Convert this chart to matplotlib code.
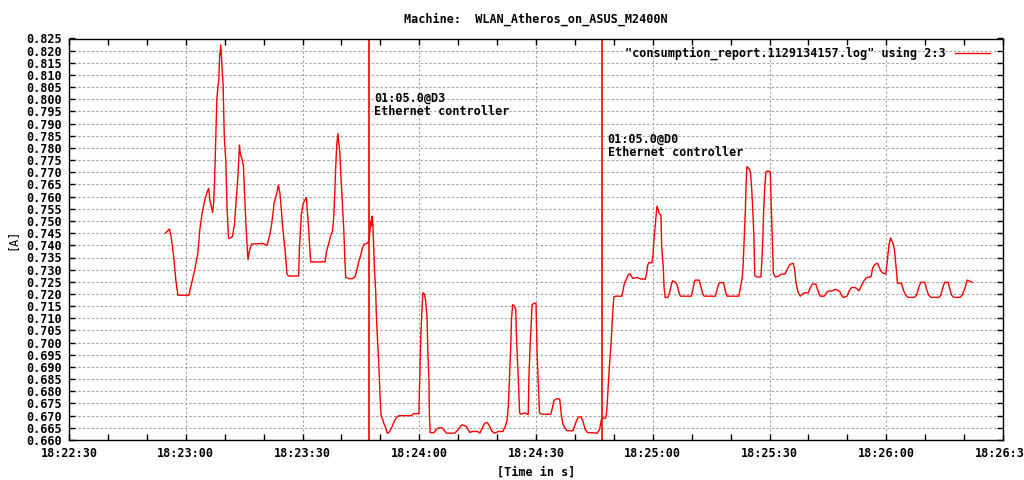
import matplotlib
matplotlib.use('Agg')
from matplotlib import pyplot
from matplotlib.ticker import MultipleLocator, FuncFormatter

# seconds after 18:22:30
secs = [24.8, 25.8, 26.3, 26.9, 27.5, 28.0, 30.8, 31.0, 31.6, 32.3, 33.1, 33.6, 34.2, 34.9, 35.5, 35.9,
        36.2, 36.9, 37.2, 37.4, 37.7, 38.0, 38.5, 38.7, 39.0, 39.2, 39.6, 39.9, 40.3, 40.6, 41.0, 41.5,
        42.0, 42.5, 42.9, 43.4, 43.8, 44.0, 44.4, 44.8, 45.1, 45.5, 45.8, 46.0, 46.4, 46.9, 49.7, 50.9,
        51.5, 52.1, 52.7, 53.4, 53.8, 54.2, 54.5, 54.9, 55.6, 56.0, 56.4, 59.0, 59.2, 59.7, 60.2, 60.7,
        61.0, 61.4, 61.7, 62.1, 65.8, 66.2, 66.7, 67.1, 67.7, 68.0, 68.3, 68.5, 68.8, 69.1, 69.3, 69.6,
        69.8, 70.2, 70.6, 70.9, 71.1, 71.8, 72.8, 73.5, 73.9, 74.4, 74.9, 75.4, 75.8, 76.8, 77.1, 77.3,
        77.5, 77.8, 77.9, 78.1, 78.3, 78.5, 78.8, 79.0, 79.3, 79.7, 80.0, 80.2, 80.6, 81.0, 81.5, 81.8,
        82.3, 82.9, 83.6, 84.2, 84.8, 88.0, 88.5, 89.9, 90.2, 90.4, 90.7, 90.9, 91.3, 91.6, 92.0, 92.2,
        92.5, 92.6, 92.8, 93.8, 94.4, 95.0, 95.9, 96.4, 97.0, 99.1, 100.0, 100.9, 101.5, 102.1, 102.6, 103.0,
        103.6, 105.0, 105.6, 106.2, 106.8, 107.5, 108.1, 108.7, 109.4, 110.3, 111.5, 112.1, 112.6, 112.9, 113.2, 113.5,
        113.7, 114.0, 114.4, 114.8, 115.0, 115.4, 115.8, 116.1, 117.1, 118.0, 118.2, 118.5, 118.8, 119.0, 119.5, 120.0,
        120.3, 120.7, 120.9, 121.5, 123.8, 124.2, 124.6, 125.4, 126.1, 126.5, 126.9, 127.4, 128.0, 129.5, 129.9, 130.4,
        130.9, 131.6, 132.1, 132.6, 133.2, 135.7, 136.3, 136.8, 137.1, 137.9, 138.2, 138.4, 138.6, 138.8, 139.3, 139.7,
        140.0, 140.4, 142.0, 142.3, 142.7, 143.2, 143.6, 144.1, 144.5, 144.9, 146.0, 146.8, 148.1, 148.4, 148.7, 149.0,
        149.8, 150.1, 150.3, 150.6, 150.9, 151.1, 151.4, 151.7, 152.1, 152.3, 152.7, 152.9, 153.2, 153.9, 154.4, 154.8,
        155.1, 155.8, 156.2, 156.7, 157.1, 159.9, 160.3, 160.6, 160.9, 161.9, 162.5, 162.8, 163.2, 166.1, 166.6, 167.1,
        168.2, 168.7, 169.1, 172.1, 172.5, 173.0, 173.2, 173.5, 173.8, 174.0, 174.2, 174.7, 175.1, 175.4, 175.7, 176.0,
        176.2, 176.6, 177.8, 178.0, 178.3, 178.5, 178.8, 179.1, 179.7, 180.2, 180.4, 180.7, 181.0, 181.5, 182.3, 183.0,
        184.0, 184.7, 185.3, 186.1, 186.4, 186.8, 187.3, 187.9, 188.5, 189.0, 190.0, 190.4, 191.0, 191.9, 192.4, 193.0,
        194.1, 194.6, 195.1, 196.2, 196.8, 197.5, 198.1, 198.5, 199.0, 199.9, 200.5, 201.1, 202.1, 203.0, 203.7, 204.4,
        205.0, 206.1, 206.5, 207.1, 207.8, 208.2, 208.7, 209.3, 209.9, 210.3, 210.7, 211.1, 211.5, 211.9, 212.2, 212.6,
        212.9, 213.9, 214.4, 215.0, 215.6, 217.2, 217.8, 218.4, 218.9, 219.9, 220.3, 220.9, 221.6, 223.5, 224.0, 224.6,
        225.0, 225.9, 226.3, 226.8, 227.4, 228.9, 229.5, 230.2, 230.8, 231.2, 231.7, 232.1]
amps = [.745, .7467, .743, .7353, .725, .7195, .7195, .721, .725, .730, .7367, .7463, .7532, .7586, .762, .7634,
        .7586, .7535, .758, .766, .7826, .8004, .8086, .8175, .8223, .817, .806, .7847, .7744, .7559, .7429, .743,
        .7436, .7484, .7573, .7682, .7812, .7777, .7757, .773, .7614, .7477, .7388, .7342, .7381, .7405, .7408, .740,
        .7436, .749, .7573, .7614, .7648, .7614, .7559, .7477, .7367, .7282, .7274, .7274, .7384, .7527, .7573, .7589,
        .7596, .7507, .7432, .7332, .7332, .7377, .7404, .7432, .7459, .7507, .7616, .7712, .7815, .7859, .7822, .7781,
        .7705, .7582, .7466, .7336, .727, .7263, .7263, .7271, .7295, .7329, .7356, .739, .7404, .741, .7425, .745,
        .750, .748, .752, .748, .739, .730, .7212, .7103, .7007, .6877, .6753, .6699, .6685, .6664, .6644, .6627,
        .6633, .665, .6678, .6694, .670, .670, .6708, .6708, .6897, .7027, .7137, .7205, .720, .7178, .7103, .6973,
        .6836, .6707, .663, .663, .6644, .665, .665, .664, .6628, .6628, .6642, .6662, .666, .6656, .6642, .6631,
        .6635, .6635, .6628, .665, .6669, .6672, .6656, .6635, .6628, .6635, .6635, .6656, .6683, .6745, .6862, .6979,
        .7096, .7156, .7151, .7138, .7014, .6869, .6711, .6706, .6711, .6705, .6869, .6993, .7096, .7156, .7162, .7162,
        .6945, .6786, .6711, .6706, .6706, .6731, .6763, .677, .6768, .6704, .6666, .665, .6638, .6638, .6656, .668,
        .6694, .6695, .6676, .6645, .6631, .6628, .6642, .6683, .669, .669, .6724, .6779, .6828, .6887, .700, .712,
        .7188, .7191, .7191, .7209, .7243, .726, .7277, .7284, .7273, .7264, .7268, .7262, .7261, .7284, .7318, .7329,
        .7329, .7366, .7421, .7476, .753, .7561, .7547, .753, .7524, .7394, .7312, .7229, .7186, .7186, .7209, .724,
        .7254, .7249, .724, .7209, .7191, .7191, .7216, .7243, .7257, .7257, .7223, .7202, .7191, .7191, .7223, .7247,
        .7247, .7209, .7191, .7191, .7223, .727, .7312, .7428, .7545, .7661, .7723, .7716, .7702, .764, .7545, .7435,
        .7277, .727, .727, .7325, .7435, .7545, .7647, .7702, .7706, .7702, .7586, .7435, .7284, .727, .7273, .7282,
        .7282, .7306, .7322, .7326, .7306, .725, .7209, .7191, .72, .7205, .7205, .7223, .7241, .7241, .7216, .7191,
        .7191, .7205, .7212, .7213, .7219, .7216, .7209, .7195, .7186, .7191, .7213, .7227, .7226, .7213, .7237, .7257,
        .7268, .7271, .7306, .7322, .7326, .731, .7292, .7285, .7282, .734, .7402, .743, .7416, .7402, .7368, .7299,
        .7244, .7244, .7216, .7195, .7186, .7186, .7195, .723, .7248, .7248, .7223, .7195, .7186, .7186, .7195, .723,
        .7248, .7248, .7223, .7195, .7186, .7186, .7195, .7223, .7257, .7255, .725, .7248]

event_secs = [77.0, 137.0]
event_labels = ['01:05.0@D3\nEthernet controller', '01:05.0@D0\nEthernet controller']
event_label_y = [0.7977, 0.7809]

start = 18 * 3600 + 22 * 60 + 30

def fmt_time(x, pos):
    s = int(round(start + x))
    return '%02d:%02d:%02d' % (s // 3600, (s % 3600) // 60, s % 60)

pyplot.rcParams.update({'font.family': 'DejaVu Sans Mono', 'font.weight': 'bold', 'font.size': 8.5})

fig = pyplot.figure(figsize=(10.24, 4.8), dpi=100)
ax = fig.add_axes([69 / 1024, 1 - 440 / 480, 934 / 1024, 401.5 / 480])

ax.plot(secs, amps, color='red', linewidth=1.0,
        label='"consumption_report.1129134157.log" using 2:3')
for t, lab, ly in zip(event_secs, event_labels, event_label_y):
    ax.axvline(t, color='red', linewidth=1.2)
    ax.text(t + 1.4, ly, lab, ha='left', va='center', linespacing=1.0)

ax.set_xlim(0, 240)
ax.set_ylim(0.660, 0.825)
ax.xaxis.set_major_locator(MultipleLocator(30))
ax.xaxis.set_minor_locator(MultipleLocator(10))
ax.xaxis.set_major_formatter(FuncFormatter(fmt_time))
ax.yaxis.set_major_locator(MultipleLocator(0.005))
ax.yaxis.set_major_formatter(FuncFormatter(lambda v, p: '%.3f' % v))

ax.grid(True, which='major', color='#a0a0a0', linestyle=(0, (2, 2)), linewidth=0.8)
ax.tick_params(which='both', direction='in', top=True, right=True, length=4, width=1)
ax.tick_params(axis='x', pad=5)
ax.tick_params(axis='y', pad=5)
for sp in ax.spines.values():
    sp.set_linewidth(1.0)

fig.text(536 / 1024, 1 - 472 / 480, '[Time in s]', ha='center', va='center')
ax.set_ylabel('[A]', labelpad=6)
fig.text(536 / 1024, 1 - 19 / 480, 'Machine:  WLAN_Atheros_on_ASUS_M2400N', ha='center', va='center')

ax.legend(loc='upper right', frameon=False, markerfirst=False, handlelength=3.0,
          borderaxespad=0.3, bbox_to_anchor=(0.995, 1.0))

fig.savefig('out.png', dpi=100)
